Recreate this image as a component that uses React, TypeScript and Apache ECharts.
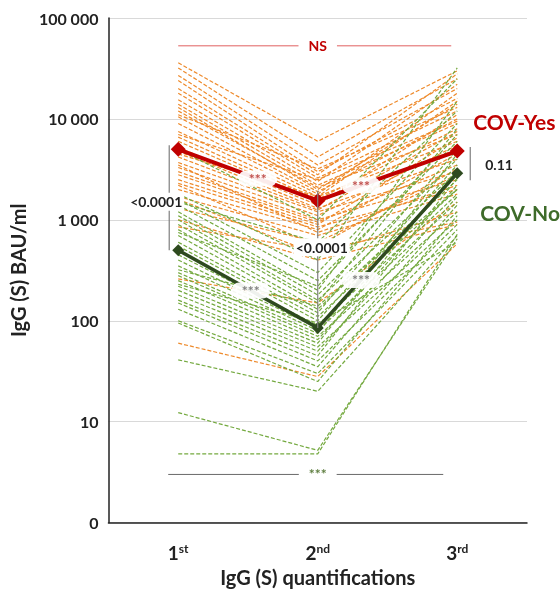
import React, { useEffect, useRef } from "react";
import * as echarts from "echarts";

const categories = ["1st", "2nd", "3rd"];
const yTicks = [1, 10, 100, 1000, 10000, 100000];

// COV-Yes individual trajectories [1st, 2nd, 3rd] (BAU/ml)
const covYesLines: number[][] = [
  [36000, 6000, 30000], [32000, 4200, 25000], [27000, 3500, 20000], [24000, 3000, 16000],
  [20000, 2800, 28000], [18000, 2600, 12000], [15500, 2400, 22000], [14000, 2200, 9000],
  [13000, 2000, 14000], [12000, 2100, 7000], [10500, 1900, 10000], [9000, 1800, 18000],
  [7500, 1700, 6000], [6600, 1600, 8000], [6000, 1500, 5000], [5200, 1400, 11000],
  [4800, 1300, 4000], [4200, 1250, 7500], [3700, 1200, 3000], [3300, 1100, 5500],
  [3000, 1000, 2500], [2800, 950, 3500], [2500, 900, 6500], [2300, 850, 2000],
  [2000, 800, 4500], [1700, 700, 1800], [1300, 600, 2800], [850, 500, 950],
  [260, 150, 1500], [60, 28, 580], [1600, 450, 1200], [2200, 550, 3200],
  [4500, 1700, 15000], [3500, 750, 2200], [1000, 400, 900], [7000, 2500, 9500],
  [11000, 3200, 13000],
];

// COV-No individual trajectories [1st, 2nd, 3rd] (BAU/ml)
const covNoLines: number[][] = [
  [5000, 1000, 25000], [1800, 400, 32000], [1600, 300, 9000], [1400, 250, 6000],
  [1200, 200, 15000], [1100, 180, 4000], [1000, 160, 3000], [900, 150, 8000],
  [800, 130, 2500], [700, 120, 5000], [600, 110, 2000], [550, 100, 3500],
  [450, 90, 1800], [400, 85, 2800], [350, 80, 1500], [300, 75, 4500],
  [280, 70, 1200], [250, 65, 2200], [220, 60, 3200], [200, 55, 1000],
  [180, 50, 1700], [160, 45, 2600], [150, 40, 900], [130, 35, 1400],
  [100, 30, 800], [95, 25, 1100], [41, 20, 700], [12.3, 5.2, 650],
  [4.8, 4.8, 720], [1500, 600, 12000], [750, 220, 7000], [320, 140, 2000],
  [230, 95, 600],
];

// Geometric means
const covYesMean = [5000, 1550, 4800];
const covNoMean = [500, 85, 2900];

// Annotation levels
const nsLevel = 53000;
const bottomLevel = 3;

const FONT = "Lato, 'Open Sans', sans-serif";
const ORANGE = "#EE8A2B";
const GREEN = "#74A93F";
const RED = "#C00000";
const DGREEN = "#2E4A1F";

function fmt(v: number) {
  if (v === 1) return "0";
  return String(Math.round(v)).replace(/\B(?=(\d{3})+(?!\d))/g, " ");
}

export default function App() {
  const ref = useRef<HTMLDivElement>(null);
  useEffect(() => {
    if (!ref.current) return;
    const chart = echarts.init(ref.current, null, { renderer: "svg" });
    const series: any[] = [];
    covYesLines.forEach((d, i) => {
      series.push({
        type: "line", name: "yes" + i, data: d, symbol: "none", silent: true,
        lineStyle: { color: ORANGE, width: 1.2, type: [4, 2] }, z: 2,
      });
    });
    covNoLines.forEach((d, i) => {
      series.push({
        type: "line", name: "no" + i, data: d, symbol: "none", silent: true,
        lineStyle: { color: GREEN, width: 1.2, type: [4, 2] }, z: 3,
      });
    });
    series.push({
      type: "line", name: "COV-Yes mean", data: covYesMean, symbol: "diamond", symbolSize: 15,
      itemStyle: { color: RED }, lineStyle: { color: RED, width: 4 }, z: 10,
    });
    series.push({
      type: "line", name: "COV-No mean", data: covNoMean, symbol: "diamond", symbolSize: 12,
      itemStyle: { color: DGREEN }, lineStyle: { color: DGREEN, width: 3.5 }, z: 10,
    });

    chart.setOption({
      animation: false,
      grid: { left: 106, right: 33, top: 18, bottom: 66 },
      xAxis: {
        type: "category",
        data: categories,
        boundaryGap: true,
        axisLine: { lineStyle: { color: "#222", width: 1.5 } },
        axisTick: { show: false },
        axisLabel: {
          margin: 20,
          formatter: (v: string) => `{b|${v.slice(0, 1)}}{s|${v.slice(1)}}`,
          rich: {
            b: { fontFamily: FONT, fontWeight: "bold", fontSize: 19, color: "#222" },
            s: { fontFamily: FONT, fontWeight: "bold", fontSize: 12, color: "#222", verticalAlign: "top", padding: [0, 0, 8, 0] },
          },
        },
        name: "IgG (S) quantifications",
        nameLocation: "middle",
        nameGap: 44,
        nameTextStyle: { fontFamily: FONT, fontWeight: "bold", fontSize: 20, color: "#222" },
      },
      yAxis: {
        type: "log",
        logBase: 10,
        min: yTicks[0],
        max: yTicks[yTicks.length - 1],
        axisLine: { show: true, lineStyle: { color: "#222", width: 1.5 } },
        axisTick: { show: false },
        splitLine: { lineStyle: { color: "#d9d9d9", width: 1 } },
        axisLabel: {
          margin: 10,
          formatter: (v: number) => fmt(v),
          fontFamily: FONT, fontWeight: "bold", fontSize: 16, color: "#222",
        },
        name: "IgG (S) BAU/ml",
        nameLocation: "middle",
        nameGap: 76,
        nameTextStyle: { fontFamily: FONT, fontWeight: "bold", fontSize: 20, color: "#222" },
      },
      series,
    });

    const px = (c: number, v: number) => chart.convertToPixel({ xAxisIndex: 0, yAxisIndex: 0 }, [c, v]) as number[];
    const lerp = (a: number[], b: number[], t: number) => [a[0] + (b[0] - a[0]) * t, a[1] + (b[1] - a[1]) * t];

    const ns0 = px(0, nsLevel), ns2 = px(2, nsLevel), ns1 = px(1, nsLevel);
    const b0 = px(0, bottomLevel), b2 = px(2, bottomLevel), b1 = px(1, bottomLevel);
    const y0 = px(0, covYesMean[0]), y1 = px(1, covYesMean[1]), y2 = px(2, covYesMean[2]);
    const n0 = px(0, covNoMean[0]), n1 = px(1, covNoMean[1]), n2 = px(2, covNoMean[2]);

    const stars = (p: number[], color: string) => ({
      type: "text", x: p[0], y: p[1], z: 20,
      style: {
        text: "***", fill: color, fontFamily: FONT, fontWeight: "bold", fontSize: 14,
        align: "center", verticalAlign: "middle",
        backgroundColor: "rgba(255,255,255,0.92)", padding: [2, 10, 0, 10], borderRadius: 7,
      },
    });
    const pval = (x: number, y: number, text: string, align = "center") => ({
      type: "text", x, y, z: 20,
      style: {
        text, fill: "#222", fontFamily: FONT, fontWeight: "bold", fontSize: 14,
        align, verticalAlign: "middle", backgroundColor: "#fff", padding: [2, 2, 2, 2],
      },
    });
    const vline = (x: number, ya: number, yb: number, color = "#7f7f7f") => ({
      type: "line", z: 15, shape: { x1: x, y1: ya, x2: x, y2: yb }, style: { stroke: color, lineWidth: 1.2 },
    });

    chart.setOption({
      graphic: [
        // NS line top
        { type: "line", z: 15, shape: { x1: ns0[0], y1: ns0[1], x2: ns2[0] - 6, y2: ns2[1] }, style: { stroke: "#E06060", lineWidth: 1 } },
        { type: "text", x: ns1[0], y: ns1[1], z: 20, style: { text: "NS", fill: RED, fontFamily: FONT, fontWeight: "bold", fontSize: 14, align: "center", verticalAlign: "middle", backgroundColor: "#fff", padding: [2, 10, 2, 10] } },
        // bottom *** line
        { type: "line", z: 15, shape: { x1: b0[0] - 10, y1: b0[1], x2: b2[0] - 14, y2: b2[1] }, style: { stroke: "#6a6a6a", lineWidth: 1 } },
        { type: "text", x: b1[0], y: b1[1] - 1, z: 20, style: { text: "***", fill: "#5d7d3e", fontFamily: FONT, fontWeight: "bold", fontSize: 14, align: "center", verticalAlign: "middle", backgroundColor: "#fff", padding: [2, 10, 2, 10] } },
        // brackets
        vline(y0[0] - 9, y0[1] - 4, n0[1]),
        pval(y0[0] - 22, (y0[1] + n0[1]) / 2 + 2, "<0.0001"),
        vline(y1[0], y1[1] - 10, n1[1]),
        pval(y1[0] + 4, (y1[1] + n1[1]) / 2 - 17, "<0.0001"),
        vline(y2[0] + 13, y2[1] - 4, n2[1] + 7),
        pval(y2[0] + 26, (y2[1] + n2[1]) / 2 + 2, "0.11", "left"),
        // mean line stars
        stars(lerp(y0, y1, 0.57), "#C0504D"),
        stars(lerp(y1, y2, 0.31), "#C0504D"),
        stars(lerp(n0, n1, 0.52), "#7f7f7f"),
        stars(lerp(n1, n2, 0.31), "#7f7f7f"),
        // group labels
        { type: "text", x: y2[0] + 16, y: y2[1] - 30, z: 20, style: { text: "COV-Yes", fill: RED, fontFamily: FONT, fontWeight: "bold", fontSize: 21, align: "left", verticalAlign: "middle" } },
        { type: "text", x: y2[0] + 23, y: y2[1] + 61, z: 20, style: { text: "COV-No", fill: "#3E6B2A", fontFamily: FONT, fontWeight: "bold", fontSize: 21, align: "left", verticalAlign: "middle" } },
      ],
    });

    return () => chart.dispose();
  }, []);
  return <div ref={ref} style={{ position: "fixed", left: 0, top: 0, width: 560, height: 592 }} />;
}
